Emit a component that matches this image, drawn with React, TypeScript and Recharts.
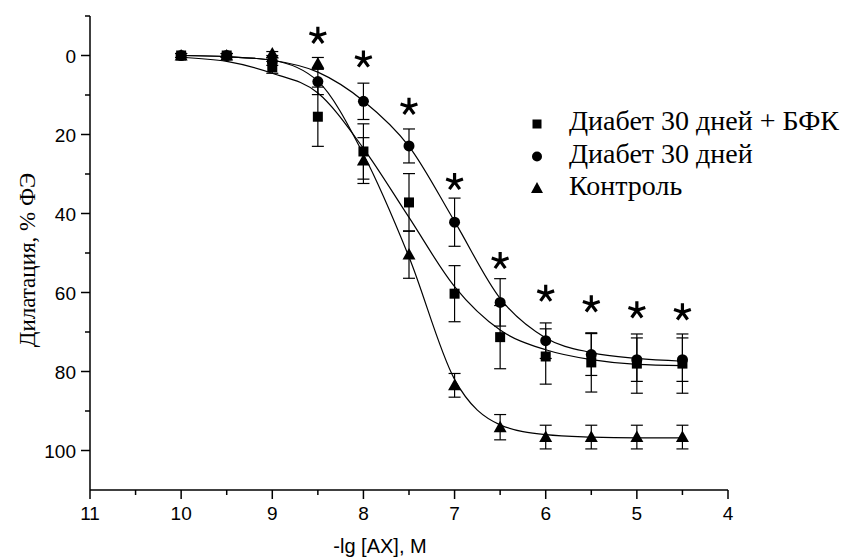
import { ComposedChart, Line, Scatter, ErrorBar, XAxis, YAxis, Legend, Label } from "recharts";

// concentrations, -lg [AX]
const X_PTS = [10, 9.5, 9, 8.5, 8, 7.5, 7, 6.5, 6, 5.5, 5, 4.5];

const BFK_Y = [0, 0, 3, 15.5, 24.3, 37.2, 60.3, 71.3, 76.2, 77.7, 78, 78];
const BFK_ERR = [0.5, 0.5, 1.5, 7.5, 7, 7.3, 7.1, 8, 7, 7.5, 7.5, 7.5];
const DIAB_Y = [0, 0, 1.5, 6.6, 11.6, 22.9, 42.2, 62.5, 72.2, 75.7, 77, 77];
const DIAB_ERR = [0.5, 0.5, 1, 3.3, 4.6, 4.3, 6.1, 6, 4.5, 5.3, 5.5, 5.5];
const CTRL_Y = [0, 0, -0.5, 2, 26.6, 50.4, 83.5, 94.1, 96.6, 96.6, 96.6, 96.6];
const CTRL_ERR = [0.5, 0.5, 0.5, 1.5, 5.8, 6, 3, 3.2, 3, 3, 3, 3];

// fitted curves
const BFK_FIT = [0.5, 1.5, 4.5, 9.5, 23.5, 41, 58.5, 69.5, 74.5, 77, 78.2, 78.5];
const DIAB_FIT = [0, 0.3, 1.2, 4.2, 11.5, 23, 42, 61.5, 71.5, 75.2, 76.7, 77.4];
const CTRL_FIT = [0, 0.3, 1.2, 6.5, 25, 51, 82, 93.5, 96, 96.6, 96.8, 96.8];

// significance marks
const STAR_X = [8.5, 8, 7.5, 7, 6.5, 6, 5.5, 5, 4.5];
const STAR_Y = [-5, 1, 13, 32, 52, 60.3, 63, 64.5, 65];

const X_TICKS = [4, 4.5, 5, 5.5, 6, 6.5, 7, 7.5, 8, 8.5, 9, 9.5, 10, 10.5, 11];
const Y_TICKS = [-10, 0, 10, 20, 30, 40, 50, 60, 70, 80, 90, 100];

const SERIES = ["Диабет 30 дней + БФК", "Диабет 30 дней", "Контроль"];

const pts = (ys: number[], errs: number[]) => X_PTS.map((x, i) => ({ x, y: ys[i], e: errs[i] }));
const fit = (ys: number[]) => X_PTS.map((x, i) => ({ x, y: ys[i] }));
const stars = STAR_X.map((x, i) => ({ x, y: STAR_Y[i] }));

const SANS = "'Liberation Sans', Arial, sans-serif";
const SERIF = "'Liberation Serif', 'Times New Roman', serif";

const Square = ({ cx, cy }: any) => <rect x={cx - 5} y={cy - 5} width={10} height={10} fill="#000" />;
const Circle = ({ cx, cy }: any) => <circle cx={cx} cy={cy} r={5.5} fill="#000" />;
const Tri = ({ cx, cy }: any) => (
  <polygon points={`${cx},${cy - 6.5} ${cx + 6.5},${cy + 5} ${cx - 6.5},${cy + 5}`} fill="#000" />
);
const Star = ({ cx, cy }: any) => (
  <path
    d={`M${cx},${cy} l0,-9 M${cx},${cy} l8.4,-2.8 M${cx},${cy} l5.2,7.2 M${cx},${cy} l-5.2,7.2 M${cx},${cy} l-8.4,-2.8`}
    stroke="#000"
    strokeWidth={3.2}
  />
);

const XTick = ({ x, y, payload }: any) => {
  const major = Number.isInteger(payload.value);
  return (
    <g>
      <line x1={x} y1={y} x2={x} y2={y + (major ? 9 : 5)} stroke="#000" strokeWidth={1.5} />
      {major && (
        <text x={x} y={y + 30} textAnchor="middle" fontFamily={SANS} fontSize={19} fill="#000">
          {payload.value}
        </text>
      )}
    </g>
  );
};

const YTick = ({ x, y, payload }: any) => {
  const major = payload.value % 20 === 0;
  return (
    <g>
      <line x1={x} y1={y} x2={x - (major ? 9 : 5)} y2={y} stroke="#000" strokeWidth={1.5} />
      {major && (
        <text x={x - 14} y={y + 7} textAnchor="end" fontFamily={SANS} fontSize={19} fill="#000">
          {payload.value}
        </text>
      )}
    </g>
  );
};

const LegendBox = () => (
  <svg width={330} height={110}>
    <rect x={11.5} y={17.5} width={9} height={9} fill="#000" />
    <circle cx={16} cy={54.5} r={5} fill="#000" />
    <polygon points="16,80 22,91 10,91" fill="#000" />
    {SERIES.map((s, i) => (
      <text key={s} x={48} y={28 + i * 32.5} fontFamily={SERIF} fontSize={28} fill="#000">
        {s}
      </text>
    ))}
  </svg>
);

export default function App() {
  return (
    <div style={{ position: "absolute", left: 0, top: 0, background: "#fff" }}>
      <ComposedChart width={845} height={558} margin={{ top: 16, right: 117, bottom: 0, left: 0 }}>
        <XAxis
          type="number"
          dataKey="x"
          domain={[4, 11]}
          reversed
          allowDataOverflow
          ticks={X_TICKS}
          interval={0}
          tick={<XTick />}
          tickLine={false}
          tickSize={0}
          tickMargin={0}
          height={68}
          axisLine={{ stroke: "#000", strokeWidth: 1.5 }}
        >
          <Label
            content={() => (
              <text x={380} y={553} textAnchor="middle" fontFamily={SANS} fontSize={20} fill="#000">
                -lg [AX], M
              </text>
            )}
          />
        </XAxis>
        <YAxis
          type="number"
          domain={[-10, 110]}
          reversed
          allowDataOverflow
          ticks={Y_TICKS}
          interval={0}
          tick={<YTick />}
          tickLine={false}
          tickSize={0}
          tickMargin={0}
          width={90}
          axisLine={{ stroke: "#000", strokeWidth: 1.5 }}
        >
          <Label
            content={() => (
              <text
                transform="translate(35,260) rotate(-90)"
                textAnchor="middle"
                fontFamily={SERIF}
                fontSize={23}
                fill="#000"
              >
                Дилатация, % ФЭ
              </text>
            )}
          />
        </YAxis>
        <Legend
          layout="vertical"
          align="center"
          verticalAlign="middle"
          content={<LegendBox />}
          wrapperStyle={{ position: "absolute", left: 521, top: 102, width: 330 }}
        />
        <Line data={fit(BFK_FIT)} dataKey="y" type="monotone" dot={false} stroke="#000" strokeWidth={1.2} isAnimationActive={false} legendType="none" />
        <Line data={fit(DIAB_FIT)} dataKey="y" type="monotone" dot={false} stroke="#000" strokeWidth={1.2} isAnimationActive={false} legendType="none" />
        <Line data={fit(CTRL_FIT)} dataKey="y" type="monotone" dot={false} stroke="#000" strokeWidth={1.2} isAnimationActive={false} legendType="none" />
        <Scatter name={SERIES[0]} data={pts(BFK_Y, BFK_ERR)} dataKey="y" shape={<Square />} isAnimationActive={false}>
          <ErrorBar dataKey="e" direction="y" width={6} stroke="#000" strokeWidth={1.2} isAnimationActive={false} />
        </Scatter>
        <Scatter name={SERIES[1]} data={pts(DIAB_Y, DIAB_ERR)} dataKey="y" shape={<Circle />} isAnimationActive={false}>
          <ErrorBar dataKey="e" direction="y" width={6} stroke="#000" strokeWidth={1.2} isAnimationActive={false} />
        </Scatter>
        <Scatter name={SERIES[2]} data={pts(CTRL_Y, CTRL_ERR)} dataKey="y" shape={<Tri />} isAnimationActive={false}>
          <ErrorBar dataKey="e" direction="y" width={6} stroke="#000" strokeWidth={1.2} isAnimationActive={false} />
        </Scatter>
        <Scatter data={stars} dataKey="y" shape={<Star />} isAnimationActive={false} legendType="none" />
      </ComposedChart>
    </div>
  );
}
